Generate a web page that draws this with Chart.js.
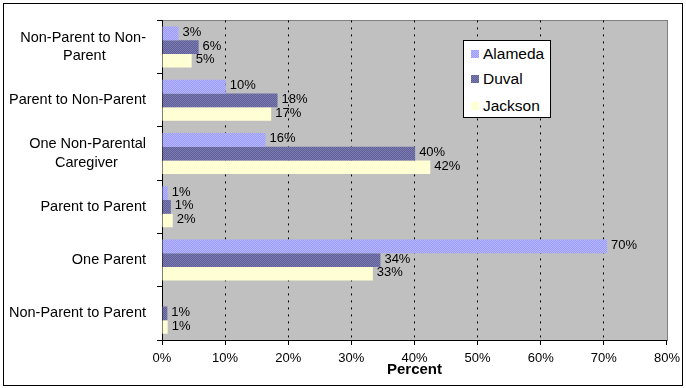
<!DOCTYPE html>
<html><head><meta charset="utf-8">
<script src="https://cdn.jsdelivr.net/npm/chart.js@4"></script>
<style>
html,body{margin:0;padding:0;background:#fff;}
#wrap{position:relative;width:686px;height:388px;}
canvas{display:block;}
#legend{position:absolute;left:463px;top:40px;width:86px;height:76px;border:1px solid #000;background:#fff;font:15.5px "Liberation Sans",Arial,sans-serif;color:#000;}
.item{position:absolute;left:7px;height:18px;line-height:18px;white-space:nowrap;}
.sw{display:inline-block;width:8px;height:8px;vertical-align:middle;margin-right:4px;position:relative;top:-1px;}
</style></head>
<body>
<div id="wrap"><canvas id="c" width="686" height="388"></canvas><div id="legend"></div></div>
<script>
const categories = [["Non-Parent to Non-","Parent"],"Parent to Non-Parent",["One Non-Parental","Caregiver"],"Parent to Parent","One Parent","Non-Parent to Parent"];
const seriesNames = ["Alameda","Duval","Jackson"];
const alamedaValues = [2.6,10.1,16.4,0.9,70.5,null];
const duvalValues = [5.8,18.3,40.1,1.4,34.6,0.85];
const jacksonValues = [4.7,17.3,42.5,1.7,33.4,0.9];
const alamedaLabels = ["3%","10%","16%","1%","70%",null];
const duvalLabels = ["6%","18%","40%","1%","34%","1%"];
const jacksonLabels = ["5%","17%","42%","2%","33%","1%"];
const xMin = 0, xMax = 80, xStep = 10;
const axisTitle = "Percent";

const FONT = '"Liberation Sans", Arial, sans-serif';
function makePattern(a, b) {
  const p = document.createElement('canvas'); p.width = 2; p.height = 2;
  const g = p.getContext('2d');
  g.fillStyle = a; g.fillRect(0,0,2,2);
  g.fillStyle = b; g.fillRect(0,0,1,1); g.fillRect(1,1,1,1);
  return p;
}
const patCanvases = [makePattern('#9999ff','#b8b8ff'), makePattern('#5e5e90','#7c7cb8'), makePattern('#ffffc4','#ffffe6')];
const ctx0 = document.getElementById('c').getContext('2d');
const patterns = patCanvases.map(p => ctx0.createPattern(p, 'repeat'));

const valueSets = [alamedaValues, duvalValues, jacksonValues];
const labelSets = [alamedaLabels, duvalLabels, jacksonLabels];

// legend (HTML)
const lg = document.getElementById('legend');
const rowTops = [4, 29, 56];
seriesNames.forEach((n, i) => {
  const d = document.createElement('div'); d.className = 'item'; d.style.top = rowTops[i] + 'px';
  const s = document.createElement('span'); s.className = 'sw';
  s.style.backgroundImage = 'url(' + patCanvases[i].toDataURL() + ')';
  d.appendChild(s); d.appendChild(document.createTextNode(n));
  lg.appendChild(d);
});

const catFont = '14.5px ' + FONT;
const measureCtx = document.createElement('canvas').getContext('2d');
function centerLines(label) {
  if (!Array.isArray(label)) return label;
  measureCtx.font = catFont;
  const w = label.map(s => measureCtx.measureText(s).width);
  const mw = Math.max(...w);
  const sp = measureCtx.measureText(' ').width;
  return label.map((s, i) => s + ' '.repeat(Math.round((mw - w[i]) / 2 / sp)));
}

const bgPlugin = {
  id: 'bg',
  beforeDraw(chart) {
    const {ctx, chartArea: a} = chart;
    ctx.save();
    ctx.fillStyle = '#c0c0c0';
    ctx.fillRect(a.left, a.top, a.right - a.left, a.bottom - a.top);
    ctx.strokeStyle = '#808080'; ctx.lineWidth = 1;
    ctx.strokeRect(Math.round(a.left) + 0.5, Math.round(a.top) + 0.5, Math.round(a.right - a.left), Math.round(a.bottom - a.top));
    ctx.restore();
  },
  afterDraw(chart) {
    const ctx = chart.ctx;
    ctx.save(); ctx.strokeStyle = '#000'; ctx.lineWidth = 1;
    ctx.strokeRect(3.5, 3.5, 679, 382);
    ctx.restore();
  }
};
const labelPlugin = {
  id: 'vlabels',
  afterDatasetsDraw(chart) {
    const ctx = chart.ctx;
    ctx.save();
    ctx.font = '13px ' + FONT; ctx.fillStyle = '#000';
    ctx.textAlign = 'left'; ctx.textBaseline = 'middle';
    chart.data.datasets.forEach((ds, di) => {
      const meta = chart.getDatasetMeta(di);
      meta.data.forEach((bar, i) => {
        const t = labelSets[di][i];
        if (t == null || valueSets[di][i] == null) return;
        ctx.fillText(t, bar.x + 4, bar.y - 1);
      });
    });
    ctx.restore();
  }
};

new Chart(document.getElementById('c'), {
  type: 'bar',
  data: {
    labels: categories,
    datasets: seriesNames.map((n, i) => ({
      label: n, data: valueSets[i], backgroundColor: patterns[i], borderWidth: 0,
      barPercentage: 1.0, categoryPercentage: 0.77
    }))
  },
  options: {
    indexAxis: 'y', responsive: false, animation: false,
    layout: { padding: { left: 0, top: 19, right: 17, bottom: 0 } },
    plugins: { legend: { display: false }, tooltip: { enabled: false } },
    scales: {
      x: {
        type: 'linear', min: xMin, max: xMax,
        afterFit(s) { s.height = 48; },
        ticks: { stepSize: xStep, color: '#000', font: { family: FONT, size: 13 }, padding: 6,
          callback: v => v + '%' },
        grid: {
          color: c => (c.tick && (c.tick.value === xMin || c.tick.value === xMax)) ? 'rgba(0,0,0,0)' : '#000',
          lineWidth: 1, drawTicks: true, tickLength: 5, tickColor: '#000'
        },
        border: { display: true, color: '#000', width: 1, dash: [2, 5] },
        title: { display: true, text: axisTitle, color: '#000', font: { family: FONT, size: 15, weight: 'bold' }, padding: { top: 0, bottom: 9 } }
      },
      y: {
        type: 'category',
        afterFit(s) { s.width = 162; },
        ticks: { color: '#000', font: { family: FONT, size: 14.5, lineHeight: 1.3 }, padding: 11,
          callback: function(v) { return centerLines(this.getLabelForValue(v)); } },
        grid: { drawOnChartArea: false, drawTicks: true, tickLength: 5, color: '#000', tickColor: '#000', offset: true },
        border: { display: true, color: '#000', width: 1 }
      }
    }
  },
  plugins: [bgPlugin, labelPlugin]
});
</script>
</body></html>
